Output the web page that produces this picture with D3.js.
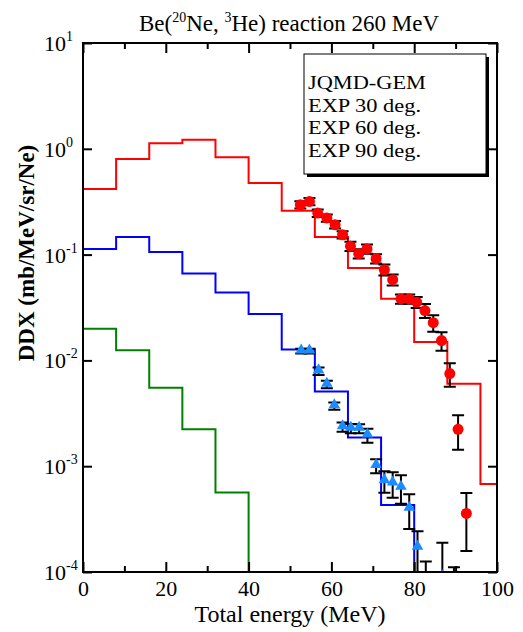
<!DOCTYPE html>
<html>
<head>
<meta charset="utf-8">
<script src="https://cdn.jsdelivr.net/npm/d3@7"></script>
<style>
  body { margin: 0; background: #fff; }
  text { font-family: "Liberation Serif", "Times New Roman", serif; fill: #000; }
</style>
</head>
<body>
<div id="chart"></div>
<script>
// histogram bin edges (MeV)
var binEdges = [0, 8, 16, 24, 32, 40, 48, 56, 64, 72, 80, 88, 96, 104, 112];

// JQMD-GEM calculations
var calc30 = [0.417, 0.80, 1.13, 1.22, 0.83, 0.474, 0.26, 0.147, 0.0748, 0.0382, 0.0149, 0.0060, 6.8e-4, 2.2e-4];
var calc60 = [0.113, 0.147, 0.106, 0.0662, 0.0438, 0.0274, 0.0127, 0.00507, 0.00187, 4.3e-4];
var calc90 = [0.0199, 0.0125, 0.00552, 0.00223, 5.65e-4];

// experiment, 30 deg (red circles)
var exp30E = [52.5, 54.7, 56.7, 58.9, 60.9, 62.7, 64.6, 66.6, 68.6, 70.8, 72.8, 74.8, 76.8, 78.8, 80.6, 82.6, 84.6, 86.6, 88.6, 90.6, 92.6];
var exp30V = [0.296, 0.318, 0.247, 0.222, 0.192, 0.154, 0.12, 0.102, 0.113, 0.0916, 0.0721, 0.058, 0.0382, 0.0382, 0.0355, 0.0296, 0.0227, 0.0154, 0.0075, 0.00223, 3.58e-4];
var exp30Err = [0.08, 0.08, 0.08, 0.08, 0.08, 0.08, 0.1, 0.1, 0.1, 0.1, 0.12, 0.12, 0.1, 0.1, 0.12, 0.15, 0.18, 0.2, 0.25, 0.36, 0.56];

// experiment, 60 deg (blue triangles)
var exp60E = [52.7, 54.7, 56.9, 58.9, 60.7, 62.7, 64.7, 66.7, 68.7, 70.8, 72.8, 74.8, 76.8, 78.8, 80.8, 82.8, 86.8, 89.6];
var exp60V = [0.01225, 0.01225, 0.00793, 0.00594, 0.00371, 0.00235, 0.00228, 0.00227, 0.00196, 0.00101, 7.27e-4, 6.9e-4, 6.3e-4, 3.99e-4, 1.71e-4, 7e-5, 9e-5, 6e-5];
var exp60Err = [0.05, 0.05, 0.08, 0.08, 0.08, 0.1, 0.1, 0.1, 0.15, 0.15, 0.23, 0.27, 0.3, 0.36, 0.42, 0.8, 1.1, 0.85];

var xMajor = [0, 20, 40, 60, 80, 100];
var xMinor = [10, 30, 50, 70, 90];
var yDecades = [-4, -3, -2, -1, 0, 1];
var legendItems = ["JQMD-GEM", "EXP 30 deg.", "EXP 60 deg.", "EXP 90 deg."];

var W = 523, H = 632;
var margin = {top: 43, right: 26, bottom: 60, left: 83},
    width = W - margin.left - margin.right,
    height = H - margin.top - margin.bottom;

var svg = d3.select("#chart").append("svg")
    .attr("width", W)
    .attr("height", H);

var g = svg.append("g")
    .attr("transform", "translate(" + margin.left + "," + margin.top + ")");

var x = d3.scaleLinear().domain([0, 100]).range([0, width]).clamp(true);
var y = d3.scaleLog().domain([1e-4, 10]).range([height, 0]);

g.append("clipPath").attr("id", "plot")
  .append("rect").attr("width", width).attr("height", height);

// step histogram path; drops to the floor if it ends inside the frame
function stepPath(vals) {
  var p = "M" + x(binEdges[0]) + "," + y(vals[0]);
  vals.forEach(function(v, i) {
    p += "V" + y(v) + "H" + x(binEdges[i + 1]);
  });
  if (binEdges[vals.length] < x.domain()[1]) p += "V" + height;
  return p;
}

var hist = g.append("g").attr("clip-path", "url(#plot)");
[[calc30, "#ff0000"], [calc60, "#0000ff"], [calc90, "#008000"]].forEach(function(s) {
  hist.append("path")
    .attr("d", stepPath(s[0]))
    .attr("fill", "none")
    .attr("stroke", s[1])
    .attr("stroke-width", 2);
});

// experimental data
var pts = g.append("g").attr("clip-path", "url(#plot)");

function errBars(E, V, F) {
  var capW = 6;
  E.forEach(function(e, i) {
    var hi = V[i] * (1 + F[i]);
    var lo = Math.max(V[i] * (1 - F[i]), 1e-6);
    var cx = x(e);
    pts.append("path")
      .attr("d", "M" + cx + "," + y(lo) + "V" + y(hi) +
                 "M" + (cx - capW) + "," + y(hi) + "H" + (cx + capW) +
                 "M" + (cx - capW) + "," + y(lo) + "H" + (cx + capW))
      .attr("fill", "none")
      .attr("stroke", "#000")
      .attr("stroke-width", 2);
  });
}
errBars(exp30E, exp30V, exp30Err);
errBars(exp60E, exp60V, exp60Err);

pts.selectAll("circle.e30")
  .data(exp30E)
  .enter().append("circle")
    .attr("cx", function(d) { return x(d); })
    .attr("cy", function(d, i) { return y(exp30V[i]); })
    .attr("r", 5.5)
    .attr("fill", "#ff0000");

var tri = d3.symbol().type(d3.symbolTriangle).size(58);
pts.selectAll("path.e60")
  .data(exp60E)
  .enter().append("path")
    .attr("d", tri)
    .attr("transform", function(d, i) { return "translate(" + x(d) + "," + (y(exp60V[i]) - 1) + ")"; })
    .attr("fill", "#1a8cff");

// axes, ticks inward on all four sides
function styleAxis(sel) {
  sel.select(".domain").remove();
  sel.selectAll(".tick line").attr("stroke", "#000").attr("stroke-width", 2);
}

g.append("g").attr("transform", "translate(0," + height + ")")
  .call(d3.axisBottom(x).tickValues(xMajor).tickSize(-10).tickPadding(8).tickFormat(d3.format("d")))
  .call(styleAxis)
  .selectAll("text").style("font-size", "22px").style("font-family", "Liberation Serif");
g.append("g").attr("transform", "translate(0," + height + ")")
  .call(d3.axisBottom(x).tickValues(xMinor).tickSize(-6).tickFormat(""))
  .call(styleAxis);
g.append("g")
  .call(d3.axisTop(x).tickValues(xMajor).tickSize(-10).tickFormat(""))
  .call(styleAxis);
g.append("g")
  .call(d3.axisTop(x).tickValues(xMinor).tickSize(-6).tickFormat(""))
  .call(styleAxis);

var decadeVals = yDecades.map(function(k) { return Math.pow(10, k); });
g.append("g")
  .call(d3.axisLeft(y).tickValues(decadeVals).tickSize(-9).tickFormat(""))
  .call(styleAxis);
g.append("g").attr("transform", "translate(" + width + ",0)")
  .call(d3.axisRight(y).tickValues(decadeVals).tickSize(-9).tickFormat(""))
  .call(styleAxis);

// y tick labels with superscript exponents
var ylab = g.append("g");
yDecades.forEach(function(k) {
  var t = ylab.append("text")
    .attr("x", -39)
    .attr("y", y(Math.pow(10, k)) + 8)
    .style("font-size", "22px");
  t.append("tspan").text("10");
  t.append("tspan").attr("dy", -10).style("font-size", "14px").text(k < 0 ? "-" + (-k) : "" + k);
});

// frame
g.append("rect")
  .attr("width", width)
  .attr("height", height)
  .attr("fill", "none")
  .attr("stroke", "#000")
  .attr("stroke-width", 2);

// legend box with shadow
var lg = g.append("g").attr("transform", "translate(221,11)");
lg.append("rect").attr("x", 3).attr("y", 3).attr("width", 182).attr("height", 120).attr("fill", "#000");
lg.append("rect").attr("width", 182).attr("height", 120).attr("fill", "#fff")
  .attr("stroke", "#000").attr("stroke-width", 1);
var legendW = [118, 113, 113, 113];
lg.selectAll("text")
  .data(legendItems)
  .enter().append("text")
    .attr("x", 4)
    .attr("y", function(d, i) { return 35 + i * 22.5; })
    .attr("textLength", function(d, i) { return legendW[i]; })
    .attr("lengthAdjust", "spacingAndGlyphs")
    .style("font-size", "19px")
    .text(function(d) { return d; });

// title
var title = svg.append("text")
  .attr("x", 289)
  .attr("y", 31)
  .attr("text-anchor", "middle")
  .style("font-size", "23px");
title.append("tspan").text("Be(");
title.append("tspan").attr("dy", -9).style("font-size", "14px").text("20");
title.append("tspan").attr("dy", 9).text("Ne, ");
title.append("tspan").attr("dy", -9).style("font-size", "14px").text("3");
title.append("tspan").attr("dy", 9).text("He) reaction 260 MeV");

// axis titles
svg.append("text")
  .attr("x", margin.left + width / 2)
  .attr("y", 622)
  .attr("text-anchor", "middle")
  .style("font-size", "24px")
  .text("Total energy (MeV)");

svg.append("text")
  .attr("transform", "translate(34,253) rotate(-90)")
  .attr("text-anchor", "middle")
  .style("font-size", "23px")
  .style("font-weight", "bold")
  .text("DDX (mb/MeV/sr/Ne)");
</script>
</body>
</html>
